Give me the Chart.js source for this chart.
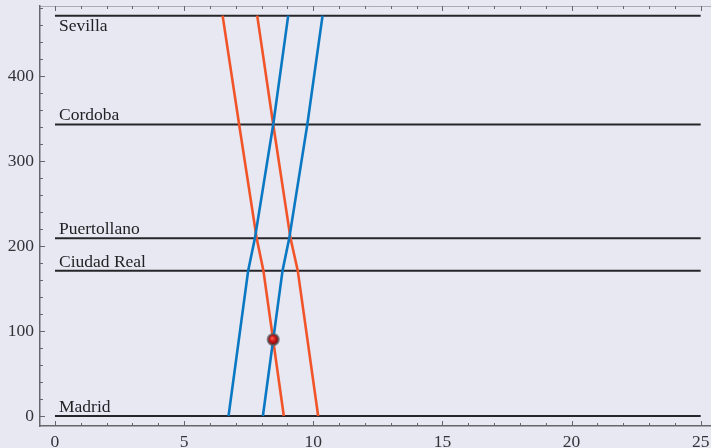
<!DOCTYPE html>
<html>
<head>
<meta charset="utf-8">
<script src="https://cdn.jsdelivr.net/npm/chart.js@4/dist/chart.umd.min.js"></script>
<style>
  html, body { margin: 0; padding: 0; background: #e8e8f2; }
  #wrap { width: 711px; height: 448px; }
  canvas { display: block; }
</style>
</head>
<body>
<div id="wrap"><canvas id="chart" width="711" height="448"></canvas></div>
<script>
// Stations along the line and their distance from Madrid (km)
const stationNames = ['Madrid', 'Ciudad Real', 'Puertollano', 'Cordoba', 'Sevilla'];
const stationKm = [0, 171, 209, 343, 471];

// Passing times (hours) at each station, listed in the order Madrid → Sevilla
const southboundA = [6.72, 7.48, 7.74, 8.45, 9.03];
const southboundB = [8.05, 8.81, 9.07, 9.77, 10.36];
const northboundA = [8.86, 8.07, 7.81, 7.13, 6.49];
const northboundB = [10.19, 9.40, 9.12, 8.45, 7.83];

// Where two trains meet
const meetingTime = [8.45];
const meetingKm = [90];

// Axis tick labels
const xTickValues = [0, 5, 10, 15, 20, 25];
const yTickValues = [0, 100, 200, 300, 400];
const lineSpan = [0, 25];

const BLUE = '#0a78c2';
const RED = '#f2542a';
const SERIF = "'Liberation Serif', 'Times New Roman', serif";

const toPoints = (times) => times.map((t, i) => ({ x: t, y: stationKm[i] }));

const datasets = [];
stationKm.forEach((km, i) => {
  datasets.push({
    type: 'scatter',
    label: stationNames[i],
    data: lineSpan.map(x => ({ x, y: km })),
    showLine: true,
    borderColor: '#26262a',
    borderWidth: 2,
    pointRadius: 0,
    order: 3
  });
});
[[southboundA, BLUE], [southboundB, BLUE], [northboundA, RED], [northboundB, RED]].forEach(([times, col]) => {
  datasets.push({
    type: 'scatter',
    data: toPoints(times),
    showLine: true,
    borderColor: col,
    borderWidth: 2.6,
    pointRadius: 0,
    tension: 0,
    order: 2
  });
});
datasets.push({
  type: 'scatter',
  data: meetingTime.map((t, i) => ({ x: t, y: meetingKm[i] })),
  pointRadius: 5.5,
  borderWidth: 2.2,
  borderColor: 'rgba(95,95,100,0.7)',
  backgroundColor: (ctx) => {
    const chart = ctx.chart;
    if (!ctx.parsed || !chart.scales.x) return '#b01414';
    const px = chart.scales.x.getPixelForValue(ctx.parsed.x);
    const py = chart.scales.y.getPixelForValue(ctx.parsed.y);
    if (!isFinite(px) || !isFinite(py)) return '#b01414';
    const g = chart.ctx.createRadialGradient(px - 1.2, py - 1.5, 0.3, px, py, 5.5);
    g.addColorStop(0, '#ff5a4a');
    g.addColorStop(0.5, '#cc1818');
    g.addColorStop(1, '#6e0606');
    return g;
  },
  order: 1
});

// Canvas background
const background = {
  id: 'background',
  beforeDraw(chart) {
    const c = chart.ctx;
    c.save();
    c.fillStyle = '#e8e8f2';
    c.fillRect(0, 0, chart.width, chart.height);
    c.restore();
  }
};

// Inward major/minor tick marks on the frame, plus the top frame edge
const frameTicks = {
  id: 'frameTicks',
  afterDraw(chart) {
    const { ctx: c, chartArea: a, scales: { x, y } } = chart;
    c.save();
    c.strokeStyle = 'rgba(120,120,130,0.55)';
    c.lineWidth = 1;
    c.beginPath();
    c.moveTo(a.left, a.top + 0.5);
    c.lineTo(a.right, a.top + 0.5);
    c.stroke();

    c.strokeStyle = '#66666c';
    c.lineWidth = 1;
    c.beginPath();
    for (let v = 0; v <= 25; v += 1) {
      const px = Math.round(x.getPixelForValue(v)) + 0.5;
      const len = v % 5 === 0 ? 5 : 3;
      c.moveTo(px, a.bottom);
      c.lineTo(px, a.bottom - len);
      c.moveTo(px, a.top);
      c.lineTo(px, a.top + len);
    }
    for (let v = 0; v <= 480; v += 20) {
      const py = Math.round(y.getPixelForValue(v)) + 0.5;
      if (py < a.top) continue;
      const len = v % 100 === 0 ? 5 : 3;
      c.moveTo(a.left, py);
      c.lineTo(a.left + len, py);
    }
    c.stroke();
    c.restore();
  }
};

// Station names written on their lines
const stationLabels = {
  id: 'stationLabels',
  afterDatasetsDraw(chart) {
    const { ctx: c, scales: { x, y } } = chart;
    const topKm = Math.max(...stationKm);
    c.save();
    c.font = `17.5px ${SERIF}`;
    c.fillStyle = '#222226';
    c.textAlign = 'left';
    c.textBaseline = 'alphabetic';
    stationNames.forEach((name, i) => {
      const px = x.getPixelForValue(lineSpan[0]) + 4;
      const py = y.getPixelForValue(stationKm[i]);
      const dy = stationKm[i] === topKm ? 15.5 : -4;
      c.fillText(name, px, py + dy);
    });
    c.restore();
  }
};

// The frame fills the canvas edge to edge: no extra room for overhanging tick labels
const noPadding = (s) => {
  s.paddingLeft = 0; s.paddingRight = 0; s.paddingTop = 0; s.paddingBottom = 0;
};

const tickFont = { family: SERIF, size: 17.5 };

new Chart(document.getElementById('chart'), {
  type: 'scatter',
  data: { datasets },
  options: {
    responsive: false,
    animation: false,
    devicePixelRatio: 1,
    layout: { autoPadding: false, padding: { top: 6, right: 0, left: 0, bottom: 0 } },
    plugins: { legend: { display: false }, tooltip: { enabled: false } },
    scales: {
      x: {
        type: 'linear',
        bounds: 'data',
        min: -0.58,
        max: 25.4,
        afterBuildTicks: (s) => { s.ticks = xTickValues.map(v => ({ value: v })); },
        afterFit: (s) => { s.height = 22; noPadding(s); },
        grid: { display: false, drawTicks: false },
        border: { display: true, color: '#66666c', width: 1.5 },
        ticks: { font: tickFont, color: '#333338', padding: 6, maxRotation: 0, autoSkip: false, includeBounds: false }
      },
      y: {
        type: 'linear',
        bounds: 'data',
        min: -11.76,
        max: 482.35,
        afterBuildTicks: (s) => { s.ticks = yTickValues.map(v => ({ value: v })); },
        afterFit: (s) => { s.width = 40; noPadding(s); },
        grid: { display: false, drawTicks: false },
        border: { display: true, color: '#66666c', width: 1.5 },
        ticks: { font: tickFont, color: '#333338', padding: 6, autoSkip: false, includeBounds: false }
      }
    }
  },
  plugins: [background, frameTicks, stationLabels]
});
</script>
</body>
</html>
